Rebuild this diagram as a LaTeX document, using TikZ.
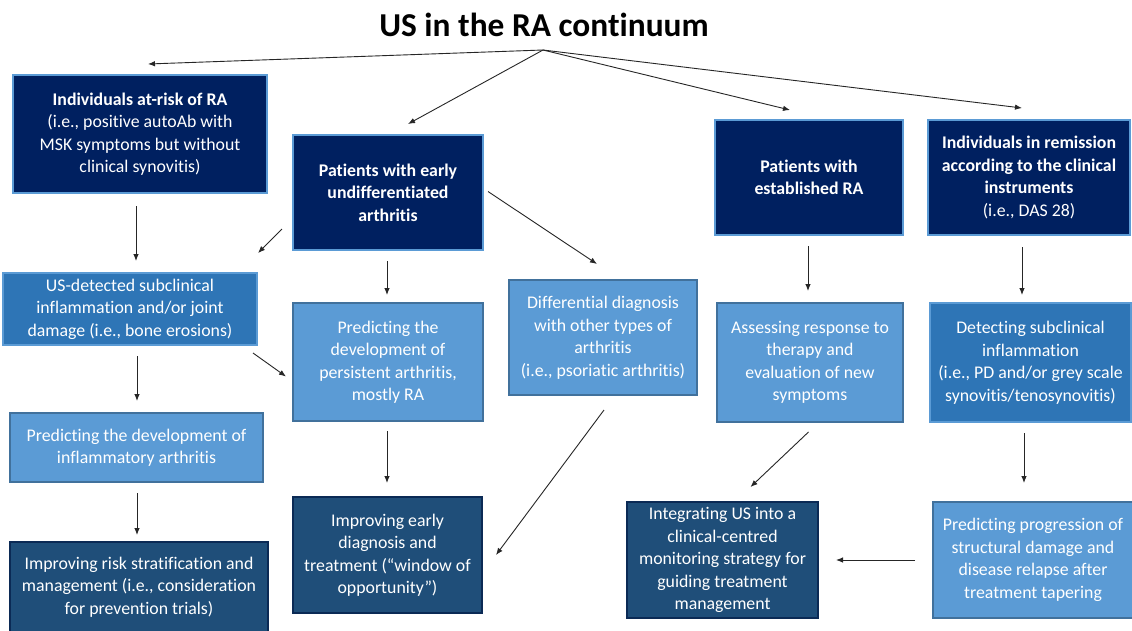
\documentclass[tikz,border=0pt]{standalone}
\usepackage{fontspec}
\setmainfont{Carlito}[Ligatures=NoCommon]
\usetikzlibrary{arrows.meta,calc}
\definecolor{navy}{HTML}{002060}
\definecolor{navyborder}{HTML}{5B9BD5}
\definecolor{midblue}{HTML}{2E75B6}
\definecolor{midborder}{HTML}{5B9BD5}
\definecolor{lightblue}{HTML}{5B9BD5}
\definecolor{lightborder}{HTML}{41719C}
\definecolor{slate}{HTML}{1F4E79}
\definecolor{slateborder}{HTML}{0B2A55}
\tikzset{
  box/.style={rectangle, line width=2pt, text=white, align=center, inner sep=0pt,
    font=\fontsize{17.8}{22.5}\selectfont},
  darkbox/.style={box, fill=navy, draw=navyborder},
  midbox/.style={box, fill=midblue, draw=midborder},
  lightbox/.style={box, fill=lightblue, draw=lightborder},
  slatebox/.style={box, fill=slate, draw=slateborder},
  arr/.style={draw=black!85, line width=0.9pt, -{Latex[length=7pt,width=5.5pt]}}
}
\begin{document}
\begin{tikzpicture}[x=1pt,y=-1pt]
\useasboundingbox[fill=white] (0,0) rectangle (1132,630);

\node[font=\fontsize{33.4}{40}\selectfont\bfseries] (title) at (544,25) {US in the RA continuum};
\coordinate (hub) at (543,50);

\node[darkbox, minimum width=254pt, minimum height=118pt] (atrisk) at (140,134)
  {\textbf{Individuals at-risk of RA}\\(i.e., positive autoAb with\\MSK symptoms but without\\clinical synovitis)};
\node[darkbox, minimum width=190pt, minimum height=115pt] (early) at (388,192.5)
  {\textbf{Patients with early}\\\textbf{undifferentiated}\\\textbf{arthritis}};
\node[darkbox, minimum width=188pt, minimum height=115pt] (estab) at (809,177.5)
  {\textbf{Patients with}\\\textbf{established RA}};
\node[darkbox, minimum width=202pt, minimum height=115pt] (remis) at (1029,177.5)
  {\textbf{Individuals in remission}\\\textbf{according to the clinical}\\\textbf{instruments}\\(i.e., DAS 28)};

\node[midbox, minimum width=254pt, minimum height=72pt] (usdet) at (130,309)
  {US-detected subclinical\\inflammation and/or joint\\damage (i.e., bone erosions)};
\node[lightbox, minimum width=190pt, minimum height=118pt] (predpers) at (388,362)
  {Predicting the\\development of\\persistent arthritis,\\mostly RA};
\node[lightbox, minimum width=188pt, minimum height=115pt] (diff) at (603,337.5)
  {Differential diagnosis\\with other types of\\arthritis\\(i.e., psoriatic arthritis)};
\node[lightbox, minimum width=186pt, minimum height=119pt] (assess) at (810,362.5)
  {Assessing response to\\therapy and\\evaluation of new\\symptoms};
\node[midbox, minimum width=201pt, minimum height=119pt] (detect) at (1030.5,362.5)
  {Detecting subclinical\\inflammation\\(i.e., PD and/or grey scale\\synovitis/tenosynovitis)};

\node[lightbox, minimum width=253pt, minimum height=69pt] (preddev) at (136.5,447.5)
  {Predicting the development of\\inflammatory arthritis};
\node[slatebox, minimum width=258pt, minimum height=90pt] (imprisk) at (139,587)
  {Improving risk stratification and\\management (i.e., consideration\\for prevention trials)};
\node[slatebox, minimum width=189pt, minimum height=116pt] (impearly) at (387.5,555)
  {Improving early\\diagnosis and\\treatment (“window of\\opportunity”)};
\node[slatebox, minimum width=191pt, minimum height=116pt] (integ) at (722.5,560)
  {Integrating US into a\\clinical-centred\\monitoring strategy for\\guiding treatment\\management};
\node[lightbox, minimum width=200pt, minimum height=116pt] (predprog) at (1033,560)
  {Predicting progression of\\structural damage and\\disease relapse after\\treatment tapering};

% title arrows
\draw[arr] (hub) -- ($(atrisk.north)+(8,-10)$);
\draw[arr] (hub) -- ($(early.north)+(20,-10)$);
\draw[arr] (hub) -- ($(estab.north)+(-19,-9)$);
\draw[arr] (hub) -- ($(remis.north)+(-7,-11)$);

% other arrows
\draw[arr] ($(atrisk.south)+(-4,12)$) -- ($(usdet.north)+(6,-11)$);
\draw[arr] ($(early.west)+(-10,36.5)$) -- ($(usdet.north east)+(0,-19)$);
\draw[arr] ($(early.south)+(-1,10)$) -- ($(predpers.north)+(-1,-7)$);
\draw[arr] ($(early.east)+(4,-1)$) -- ($(diff.north)+(-6,-15)$);
\draw[arr] ($(usdet.south east)+(-5,7)$) -- ($(predpers.west)+(-6,14.5)$);
\draw[arr] ($(usdet.south)+(7,10)$) -- ($(preddev.north)+(0.5,-11)$);
\draw[arr] ($(preddev.south)+(0.5,10)$) -- ($(imprisk.north)+(-2,-6)$);
\draw[arr] ($(predpers.south)+(-1,9)$) -- ($(impearly.north)+(-0.5,-13)$);
\draw[arr] ($(diff.south)+(1,14)$) -- ($(impearly.east)+(13,0)$);
\draw[arr] ($(estab.south)+(-1,10)$) -- ($(assess.north)+(-2,-11)$);
\draw[arr] ($(assess.south)+(-1.5,9)$) -- ($(integ.north)+(28,-14)$);
\draw[arr] ($(remis.south)+(-7,11)$) -- ($(detect.north)+(-8.5,-7)$);
\draw[arr] ($(detect.south)+(-6.5,10)$) -- ($(predprog.north)+(-9,-18)$);
\draw[arr] ($(predprog.west)+(-17,0)$) -- ($(integ.east)+(17,0)$);
\end{tikzpicture}
\end{document}
